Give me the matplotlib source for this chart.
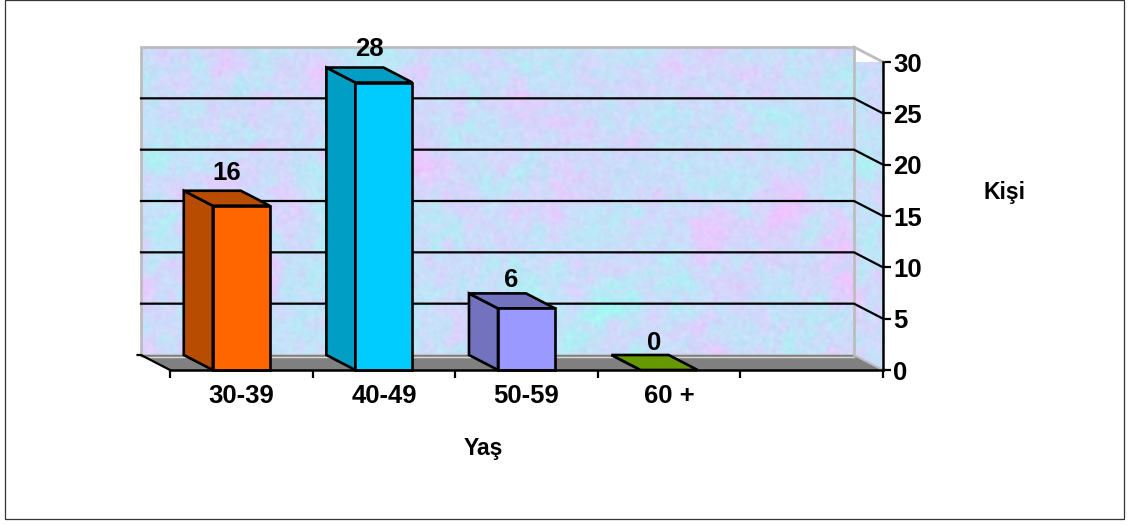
import numpy as np
import matplotlib
matplotlib.use("Agg")
import matplotlib.pyplot as plt
from matplotlib.patches import Polygon, Rectangle

plt.rcParams['font.family'] = ['Liberation Sans', 'DejaVu Sans']

categories = ['30-39', '40-49', '50-59', '60 +']
values = [16, 28, 6, 0]
y_ticks = [0, 5, 10, 15, 20, 25, 30]
front_colors = ['#FF6600', '#00CCFF', '#9999FF', '#669900']
side_colors = ['#B84C00', '#009DC4', '#7272BE', '#669900']
label_gaps = [4, 5, 1, 0]
x_label = 'Yaş'
y_label = 'Kişi'

W, H = 1129, 525
L, R, T, B = 170, 883, 62, 370
n_slots = 5
y_max = 30
fig = plt.figure(figsize=(W / 100, H / 100), dpi=100, facecolor='white')
fig.add_artist(Rectangle((5 / W, 1 - 519 / H), 1119 / W, 519 / H, transform=fig.transFigure,
                         fill=False, ec='#333333', lw=0.9))
ax = fig.add_axes([L / W, 1 - B / H, (R - L) / W, (B - T) / H])
ax.set_xlim(0, n_slots)
ax.set_ylim(0, y_max)
ax.patch.set_visible(False)

# depth offset of the 3D box, in data units
dx = 29 / ((R - L) / n_slots)
dy = 15 / ((B - T) / y_max)


def smooth(rng, shape, sigma):
    f = np.fft.fft2(rng.standard_normal(shape))
    fy = np.fft.fftfreq(shape[0])[:, None]
    fx = np.fft.fftfreq(shape[1])[None, :]
    out = np.fft.ifft2(f * np.exp(-2 * (np.pi * sigma) ** 2 * (fx ** 2 + fy ** 2))).real
    return out / out.std()


rng = np.random.default_rng(7)
shape = (330, 760)
pink = smooth(rng, shape, 14) * 0.6 + smooth(rng, shape, 4) * 0.4
cyan = smooth(rng, shape, 14) * 0.6 + smooth(rng, shape, 4) * 0.4
fine = smooth(rng, shape, 1.5)
tex = np.zeros(shape + (3,))
tex[..., 0] = 203 + 11 * pink - 10 * cyan + 2 * fine
tex[..., 1] = 222 - 8 * pink + 6 * cyan + 2 * fine
tex[..., 2] = 250 + 2 * pink - 2 * cyan + 1 * fine
tex = np.clip(tex, 0, 255).astype(np.uint8)

# back wall
wall = ax.imshow(tex, extent=(-dx, n_slots - dx, dy, y_max + dy), aspect='auto',
                 origin='lower', zorder=1, clip_on=False, interpolation='bilinear')
# right side wall
side = ax.imshow(tex[:, :40], extent=(n_slots - dx, n_slots, 0, y_max + dy), aspect='auto',
                 origin='lower', zorder=1, interpolation='bilinear', clip_on=True)
side_poly = Polygon([(n_slots - dx, dy), (n_slots, 0), (n_slots, y_max), (n_slots - dx, y_max + dy)],
                    transform=ax.transData, fc='none', ec='none')
ax.add_patch(side_poly)
side.set_clip_path(side_poly)

# wall edges
grey = '#BDBDBD'
ax.plot([-dx, -dx, n_slots - dx, n_slots - dx, -dx], [dy, y_max + dy, y_max + dy, dy, dy],
        color=grey, lw=2, zorder=2, clip_on=False, solid_joinstyle='miter')
ax.plot([n_slots - dx, n_slots], [y_max + dy, y_max], color=grey, lw=2, zorder=2, clip_on=False)

# floor
ax.add_patch(Polygon([(0, 0), (n_slots, 0), (n_slots - dx, dy), (-dx, dy)], fc='#808080', ec='none',
                     zorder=2, clip_on=False))
ax.plot([-dx, n_slots - dx], [dy - 0.15, dy - 0.15], color='#D8D8D8', lw=1, zorder=2, clip_on=False)
ax.plot([n_slots - dx, n_slots], [dy, 0], color=grey, lw=1.5, zorder=2, clip_on=False)
ax.plot([-dx * 1.12, -dx, 0], [dy, dy, 0], color='black', lw=1.6, zorder=3, clip_on=False)

# gridlines
for v in y_ticks[1:-1]:
    ax.plot([-dx, n_slots - dx, n_slots], [v + dy, v + dy, v], color='black', lw=1.6, zorder=3,
            clip_on=False, solid_joinstyle='miter')

# bars
bar_w = 0.4
for i, (v, fc, sc, gap) in enumerate(zip(values, front_colors, side_colors, label_gaps)):
    x0, x1 = i + 0.5 - bar_w / 2, i + 0.5 + bar_w / 2
    kw = dict(ec='black', lw=1.9, zorder=4, clip_on=False, joinstyle='miter')
    ax.add_patch(Polygon([(x0, 0), (x0 - dx, dy), (x0 - dx, v + dy), (x0, v)], fc=sc, **kw))
    ax.add_patch(Polygon([(x0, v), (x0 - dx, v + dy), (x1 - dx, v + dy), (x1, v)], fc=sc, **kw))
    if v > 0:
        ax.add_patch(Rectangle((x0, 0), x1 - x0, v, fc=fc, **kw))
    ax.annotate(str(v), (i + 0.5 - dx / 2 - 0.003, v + dy), xytext=(0, gap), textcoords='offset points',
                ha='center', va='bottom', fontsize=18.5, fontweight='bold', zorder=6,
                annotation_clip=False)

# axes
for s in ('top', 'left'):
    ax.spines[s].set_visible(False)
for s in ('bottom', 'right'):
    ax.spines[s].set_linewidth(1.8)
    ax.spines[s].set_zorder(5)
ax.yaxis.tick_right()
ax.set_yticks(y_ticks)
ax.tick_params(axis='y', length=5.5, width=1.6, pad=2, labelsize=18.5)
ax.set_xticks(np.arange(n_slots + 1))
ax.set_xticklabels([])
ax.tick_params(axis='x', which='major', length=5.5, width=1.6, direction='out')
ax.set_xticks(np.arange(len(categories)) + 0.5, labels=categories, minor=True)
ax.tick_params(axis='x', which='minor', length=0, pad=10, labelsize=18.5)
for t in ax.get_yticklabels() + ax.get_xticklabels(minor=True):
    t.set_fontweight('bold')

ax.set_xlabel(x_label, fontsize=16.5, fontweight='bold', labelpad=0)
ax.xaxis.set_label_coords((483 - L) / (R - L), -(449 - B) / (B - T), transform=ax.transAxes)
ax.xaxis.label.set_va('center')
ax.yaxis.set_label_position('right')
ax.set_ylabel(y_label, fontsize=16.5, fontweight='bold', rotation=0, ha='center', va='center')
ax.yaxis.set_label_coords((1005 - L) / (R - L), (B - 193) / (B - T), transform=ax.transAxes)

fig.savefig('out.png', dpi=100)
